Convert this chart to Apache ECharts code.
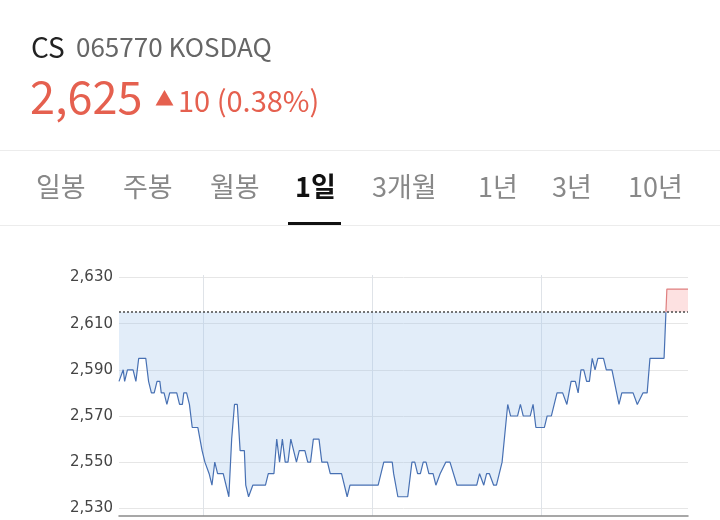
<!DOCTYPE html>
<html>
<head>
<meta charset="utf-8">
<script src="https://cdn.jsdelivr.net/npm/echarts@6/dist/echarts.min.js"></script>
<style>
html,body{margin:0;padding:0;background:#fff;}
#c{width:720px;height:520px;}
</style>
</head>
<body>
<div id="c"></div>
<script>
// ---- data ----
const stockName = 'CS';
const stockCode = '065770 KOSDAQ';
const lastPrice = '2,625';
const change = '10 (0.38%)';
const tabs = ['일봉', '주봉', '월봉', '1일', '3개월', '1년', '3년', '10년'];
const activeTab = '1일';
const prevClose = 2615;
// minutes after 09:00
const minutes = [0,3,4,6,10,12,14,19,21,23,25,27,29,30,32,34,36,41,43,45,46,48,50,52,56,59,61,62,64,66,68,70,74,78,80,82,84,86,89,90,92,95,104,106,110,112,114,116,118,120,122,126,128,132,134,136,138,142,144,148,150,158,162,164,184,188,194,195,198,205,208,210,212,214,216,218,220,223,225,228,229,232,235,240,254,256,259,261,263,266,268,272,273,276,278,283,285,287,292,294,296,302,304,307,311,315,318,321,324,326,328,330,332,334,336,338,340,344,346,350,355,357,365,368,369,372,375,377,387,389,404];
const prices = [2585,2590,2585,2590,2590,2585,2595,2595,2585,2580,2580,2585,2585,2580,2580,2575,2580,2580,2575,2575,2580,2580,2575,2565,2565,2555,2550,2550,2545,2540,2550,2545,2545,2535,2560,2575,2575,2555,2555,2540,2535,2540,2540,2545,2545,2560,2550,2560,2550,2550,2560,2550,2555,2555,2550,2550,2560,2560,2550,2550,2545,2545,2535,2540,2540,2550,2550,2545,2535,2535,2550,2550,2545,2545,2550,2550,2545,2545,2540,2545,2545,2550,2550,2540,2540,2545,2540,2545,2545,2540,2540,2550,2550,2575,2570,2570,2575,2570,2570,2575,2565,2565,2570,2570,2580,2580,2575,2585,2585,2580,2590,2590,2585,2585,2595,2590,2595,2595,2590,2590,2575,2580,2580,2575,2575,2580,2580,2595,2595,2625,2625];
const yTicks = [2530, 2550, 2570, 2590, 2610, 2630];

// split the price path at the previous close so that the part below and the
// part above can be drawn in their own colours (crossing points interpolated)
function splitAt(th) {
  const below = [], above = [];
  for (let i = 0; i < minutes.length; i++) {
    const m = minutes[i], p = prices[i];
    if (i > 0) {
      const m0 = minutes[i-1], p0 = prices[i-1];
      if ((p0 - th) * (p - th) < 0) {
        const mc = m0 + (m - m0) * (th - p0) / (p - p0);
        below.push([mc, th]); above.push([mc, th]);
        if (p > th) below.push([mc, '-']); else above.push([mc, '-']);
      }
    }
    if (p <= th) { below.push([m, p]); if (p < th) above.push([m, '-']); else above.push([m, p]); }
    else { above.push([m, p]); below.push([m, '-']); }
  }
  return {below, above};
}
const parts = splitAt(prevClose);

const KR = '"Noto Sans CJK KR", "Noto Sans", sans-serif';
const UP = '#e5604f';

const tabX = [36, 123, 210, 295, 372, 478, 552, 628];
const graphics = [
  {type:'text', x:31, y:47, style:{text: stockName, font:'28px ' + KR, fill:'#222', verticalAlign:'middle', textVerticalAlign:'middle'}},
  {type:'text', x:76, y:47, style:{text: stockCode, font:'26px ' + KR, fill:'#666', verticalAlign:'middle', textVerticalAlign:'middle'}},
  {type:'text', x:30, y:97, style:{text: lastPrice, font:'45px ' + KR, fill:UP, verticalAlign:'middle', textVerticalAlign:'middle'}},
  {type:'text', x:155, y:99, style:{text: '▲', font:'19px ' + KR, fill:UP, verticalAlign:'middle', textVerticalAlign:'middle'}},
  {type:'text', x:178, y:101, style:{text: change, font:'29px ' + KR, fill:UP, verticalAlign:'middle', textVerticalAlign:'middle'}},
  {type:'rect', shape:{x:0, y:150, width:720, height:1}, style:{fill:'#ececec'}},
  {type:'rect', shape:{x:0, y:225, width:720, height:1}, style:{fill:'#ececec'}},
  {type:'rect', shape:{x:288, y:222, width:53, height:3}, style:{fill:'#111'}}
];
tabs.forEach((t, i) => {
  const active = t === activeTab;
  graphics.push({type:'text', x:tabX[i], y:187, style:{text:t, font:(active ? 'bold ' : '') + '27px ' + KR, fill: active ? '#111' : '#888', verticalAlign:'middle', textVerticalAlign:'middle'}});
});

const chart = echarts.init(document.getElementById('c'), null, {renderer:'canvas'});
chart.setOption({
  animation: false,
  backgroundColor: '#fff',
  grid: [
    {left:119, right:32, top:277.5, bottom:11.7},
    {left:119, right:32, top:275, bottom:4}
  ],
  xAxis: [
    {type:'value', gridIndex:0, min:0, max:404, axisLine:{show:false}, axisTick:{show:false}, axisLabel:{show:false}, splitLine:{show:false}},
    {type:'value', gridIndex:1, min:0, max:404, interval:60,
      axisLine:{show:true, onZero:false, lineStyle:{color:'#8a8a8a', width:1.5}}, axisTick:{show:false}, axisLabel:{show:false},
      splitLine:{show:true, lineStyle:{width:1, color:['rgba(0,0,0,0)','#dfe3e8','rgba(0,0,0,0)','#dfe3e8','rgba(0,0,0,0)','#dfe3e8','rgba(0,0,0,0)','rgba(0,0,0,0)']}}}
  ],
  yAxis: [
    {type:'value', gridIndex:0, min:yTicks[0], max:yTicks[yTicks.length-1], interval:20,
      axisLine:{show:false}, axisTick:{show:false},
      axisLabel:{margin:6, color:'#444', fontSize:15, fontFamily:'DejaVu Sans', formatter: v => v.toLocaleString('en-US')},
      splitLine:{show:true, lineStyle:{color:'#e6e6e6', width:1}}},
    {type:'value', gridIndex:1, min:0, max:1, show:false}
  ],
  series: [
    {type:'line', name:'below', data:parts.below, symbol:'none', silent:true, connectNulls:false,
      lineStyle:{width:1.2, color:'#4770b3'}, itemStyle:{color:'#4770b3'},
      areaStyle:{origin:prevClose, color:'rgba(160,195,235,0.30)', opacity:1},
      markLine:{silent:true, symbol:'none', label:{show:false},
        lineStyle:{type:[2,2], color:'#555', width:1.6},
        data:[{yAxis:prevClose}]}},
    {type:'line', name:'above', data:parts.above, symbol:'none', silent:true, connectNulls:false,
      lineStyle:{width:1.2, color:'#df7f7f'}, itemStyle:{color:'#df7f7f'},
      areaStyle:{origin:prevClose, color:'rgba(248,170,170,0.35)', opacity:1}}
  ],
  graphic: graphics
});
</script>
</body>
</html>
